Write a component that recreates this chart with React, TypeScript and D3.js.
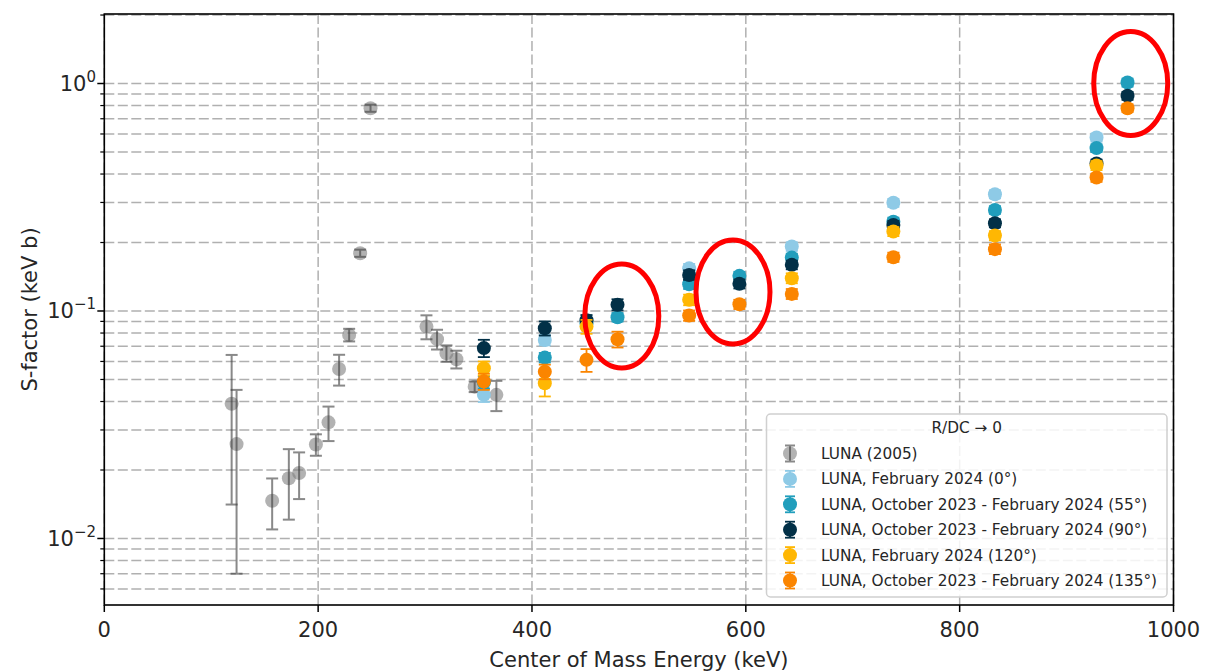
import React from 'react';
import * as d3 from 'd3';

// ---------------- DATA ----------------
// LUNA (2005)
const lunaEnergy = [119.1, 123.7, 157, 172.6, 182.2, 197.9, 209.7, 219.6, 229, 239.3, 249, 301.3, 311.2, 320, 329.3, 346.4, 366.7];
const lunaS = [0.0391, 0.026, 0.01466, 0.0184, 0.0194, 0.0259, 0.0324, 0.0556, 0.0785, 0.1795, 0.779, 0.0854, 0.0752, 0.0652, 0.0614, 0.0465, 0.0428];
const lunaErr = [0.025, 0.019, 0.0037, 0.0063, 0.0045, 0.0028, 0.0056, 0.0086, 0.005, 0.0065, 0.028, 0.0103, 0.0075, 0.0054, 0.0055, 0.0025, 0.0065];

// New measurements (centre-of-mass energy, keV)
const newEnergy = [355, 412, 451, 480, 547, 594, 643, 738, 833, 928, 957];
const s0deg = [0.0428, 0.0746, 0.09, null, 0.154, null, 0.192, 0.299, 0.326, 0.579, null];
const e0deg = [0.003, 0.004, 0.004, null, 0.007, null, 0.008, 0.012, 0.013, 0.023, null];
const s55deg = [0.0485, 0.0624, 0.088, 0.0939, 0.131, 0.1427, 0.1717, 0.247, 0.278, 0.52, 1.01];
const e55deg = [0.003, 0.003, 0.004, 0.004, 0.006, 0.006, 0.007, 0.01, 0.011, 0.02, 0.04];
const s90deg = [0.0687, 0.084, 0.091, 0.1066, 0.144, 0.1316, 0.1595, 0.239, 0.243, 0.445, 0.883];
const e90deg = [0.006, 0.006, 0.005, 0.006, 0.007, 0.006, 0.007, 0.01, 0.01, 0.018, 0.035];
const s120deg = [0.056, 0.0481, 0.0854, null, 0.112, null, 0.1394, 0.2235, 0.2146, 0.436, null];
const e120deg = [0.004, 0.006, 0.006, null, 0.006, null, 0.007, 0.01, 0.01, 0.02, null];
const s135deg = [0.049, 0.0541, 0.061, 0.0751, 0.0955, 0.107, 0.1189, 0.1724, 0.187, 0.386, 0.779];
const e135deg = [0.004, 0.004, 0.007, 0.006, 0.005, 0.005, 0.006, 0.008, 0.009, 0.016, 0.03];

const seriesLabels = [
  'LUNA, February 2024 (0°)',
  'LUNA, October 2023 - February 2024 (55°)',
  'LUNA, October 2023 - February 2024 (90°)',
  'LUNA, February 2024 (120°)',
  'LUNA, October 2023 - February 2024 (135°)',
];
const seriesColors = ['#8ecae6', '#219ebc', '#023047', '#ffb703', '#fb8500'];
const seriesValues = [s0deg, s55deg, s90deg, s120deg, s135deg];
const seriesErrors = [e0deg, e55deg, e90deg, e120deg, e135deg];

const lunaLabel = 'LUNA (2005)';
const legendTitle = 'R/DC → 0';

// Highlighted (circled) points
const highlightEnergy = [484, 588, 960];
const highlightS = [0.0951, 0.1212, 1.0];

const xTicks = [0, 200, 400, 600, 800, 1000];
const yMajorTicks = [0.01, 0.1, 1];
const yTickExponents = ['−2', '−1', '0'];

// ---------------- LAYOUT ----------------
const W = 1205;
const H = 671;
const PL = 104.3, PR = 1173.5, PT = 14, PB = 605;
const FONT = 'DejaVu Sans, sans-serif';
const TXT = '#262626';
const GRID = '#b0b0b0';

export default function App() {
  const x = d3.scaleLinear().domain([0, 1000]).range([PL, PR]);
  const y = d3.scaleLog().domain([0.0051, 2.021]).range([PB, PT]);
  const allYTicks = y.ticks();
  const minorTicks = allYTicks.filter((t) => !yMajorTicks.some((m) => Math.abs(m - t) / m < 1e-6));

  const cap = 6;

  const errorbar = (cx: number, v: number, e: number, color: string, sw: number, op: number, key: string) => {
    const y1 = y(v + e);
    const y2 = y(Math.max(v - e, 1e-4));
    return (
      <g key={key} stroke={color} strokeWidth={sw} opacity={op}>
        <line x1={cx} x2={cx} y1={y1} y2={y2} />
        <line x1={cx - cap} x2={cx + cap} y1={y1} y2={y1} />
        <line x1={cx - cap} x2={cx + cap} y1={y2} y2={y2} />
      </g>
    );
  };

  const legendX = 766.5, legendY = 414, legendW = 400.5, legendH = 183;
  const legendRowY0 = 453.5, legendRowStep = 25.4;
  const legendItems = [{ label: lunaLabel, color: '#7f7f7f', gray: true }].concat(
    seriesLabels.map((l, i) => ({ label: l, color: seriesColors[i], gray: false }))
  );

  return (
    <svg
      width={W}
      height={H}
      viewBox={`0 0 ${W} ${H}`}
      style={{ position: 'absolute', left: 0, top: 0, background: '#fff' }}
      fontFamily={FONT}
    >
      <rect x={0} y={0} width={W} height={H} fill="#fff" />
      <defs>
        <clipPath id="plotclip">
          <rect x={PL} y={PT} width={PR - PL} height={PB - PT} />
        </clipPath>
      </defs>

      {/* grid */}
      <g stroke={GRID} strokeWidth={1.5} strokeDasharray="10,3.5" fill="none">
        {allYTicks.map((t, i) => (
          <line key={'gy' + i} x1={PL} x2={PR} y1={y(t)} y2={y(t)} />
        ))}
        {xTicks.map((t, i) => (
          <line key={'gx' + i} x1={x(t)} x2={x(t)} y1={PT} y2={PB} />
        ))}
      </g>

      <g clipPath="url(#plotclip)">
        {/* LUNA 2005 */}
        {lunaEnergy.map((E, i) => (
          <circle key={'lc' + i} cx={x(E)} cy={y(lunaS[i])} r={7} fill="#7f7f7f" opacity={0.6} />
        ))}
        {lunaEnergy.map((E, i) => errorbar(x(E), lunaS[i], lunaErr[i], '#3c3c3c', 2, 0.6, 'le' + i))}

        {/* New series */}
        {seriesValues.map((vals, si) => (
          <g key={'s' + si}>
            {newEnergy.map((E, i) =>
              vals[i] == null ? null : (
                <g key={'p' + i}>
                  {errorbar(x(E), vals[i] as number, seriesErrors[si][i] as number, seriesColors[si], 1.8, 1, 'e' + i)}
                  <circle cx={x(E)} cy={y(vals[i] as number)} r={7} fill={seriesColors[si]} />
                </g>
              )
            )}
          </g>
        ))}
      </g>

      {/* highlight ellipses */}
      <g fill="none" stroke="#ff0000" strokeWidth={5}>
        {highlightEnergy.map((E, i) => (
          <ellipse key={'h' + i} cx={x(E)} cy={y(highlightS[i])} rx={37} ry={52} />
        ))}
      </g>

      {/* frame */}
      <rect x={PL} y={PT} width={PR - PL} height={PB - PT} fill="none" stroke="#000" strokeWidth={1.6} />

      {/* x ticks */}
      <g stroke="#000" strokeWidth={1.5}>
        {xTicks.map((t, i) => (
          <line key={'xt' + i} x1={x(t)} x2={x(t)} y1={PB} y2={PB + 7} />
        ))}
        {yMajorTicks.map((t, i) => (
          <line key={'ytM' + i} x1={PL - 7} x2={PL} y1={y(t)} y2={y(t)} />
        ))}
        {minorTicks.map((t, i) => (
          <line key={'ytm' + i} x1={PL - 4} x2={PL} y1={y(t)} y2={y(t)} strokeWidth={1.2} />
        ))}
      </g>
      <g fill={TXT} fontSize={21} textAnchor="middle">
        {xTicks.map((t, i) => (
          <text key={'xl' + i} x={x(t)} y={637}>
            {d3.format('d')(t)}
          </text>
        ))}
      </g>
      <g fill={TXT} fontSize={21} textAnchor="end">
        {yMajorTicks.map((t, i) => (
          <text key={'yl' + i} x={96} y={y(t) + 7.5}>
            10
            <tspan fontSize={15} dy={-9}>
              {yTickExponents[i]}
            </tspan>
          </text>
        ))}
      </g>

      {/* axis labels */}
      <text x={(PL + PR) / 2} y={667} textAnchor="middle" fontSize={21} fill={TXT}>
        Center of Mass Energy (keV)
      </text>
      <text
        transform={`translate(37, ${(PT + PB) / 2}) rotate(-90)`}
        textAnchor="middle"
        fontSize={21}
        fill={TXT}
      >
        S-factor (keV b)
      </text>

      {/* legend */}
      <g>
        <rect x={legendX} y={legendY} width={legendW} height={legendH} rx={4} fill="#fff" fillOpacity={0.85} stroke="#d0d0d0" strokeWidth={1.5} />
        <text x={legendX + legendW / 2} y={432.5} textAnchor="middle" fontSize={15.3} fill={TXT}>
          {legendTitle}
        </text>
        {legendItems.map((it, i) => {
          const ly = legendRowY0 + i * legendRowStep;
          const lx = 790;
          return (
            <g key={'lg' + i}>
              {it.gray ? (
                <>
                  <circle cx={lx} cy={ly} r={7} fill="#7f7f7f" opacity={0.6} />
                  <g stroke="#3c3c3c" strokeWidth={2} opacity={0.6}>
                    <line x1={lx} x2={lx} y1={ly - 8} y2={ly + 8} />
                    <line x1={lx - 5} x2={lx + 5} y1={ly - 8} y2={ly - 8} />
                    <line x1={lx - 5} x2={lx + 5} y1={ly + 8} y2={ly + 8} />
                  </g>
                </>
              ) : (
                <>
                  <g stroke={it.color} strokeWidth={1.8}>
                    <line x1={lx} x2={lx} y1={ly - 8} y2={ly + 8} />
                    <line x1={lx - 5} x2={lx + 5} y1={ly - 8} y2={ly - 8} />
                    <line x1={lx - 5} x2={lx + 5} y1={ly + 8} y2={ly + 8} />
                  </g>
                  <circle cx={lx} cy={ly} r={7} fill={it.color} />
                </>
              )}
              <text x={821} y={ly + 5.5} fontSize={15.3} fill={TXT}>
                {it.label}
              </text>
            </g>
          );
        })}
      </g>
    </svg>
  );
}
